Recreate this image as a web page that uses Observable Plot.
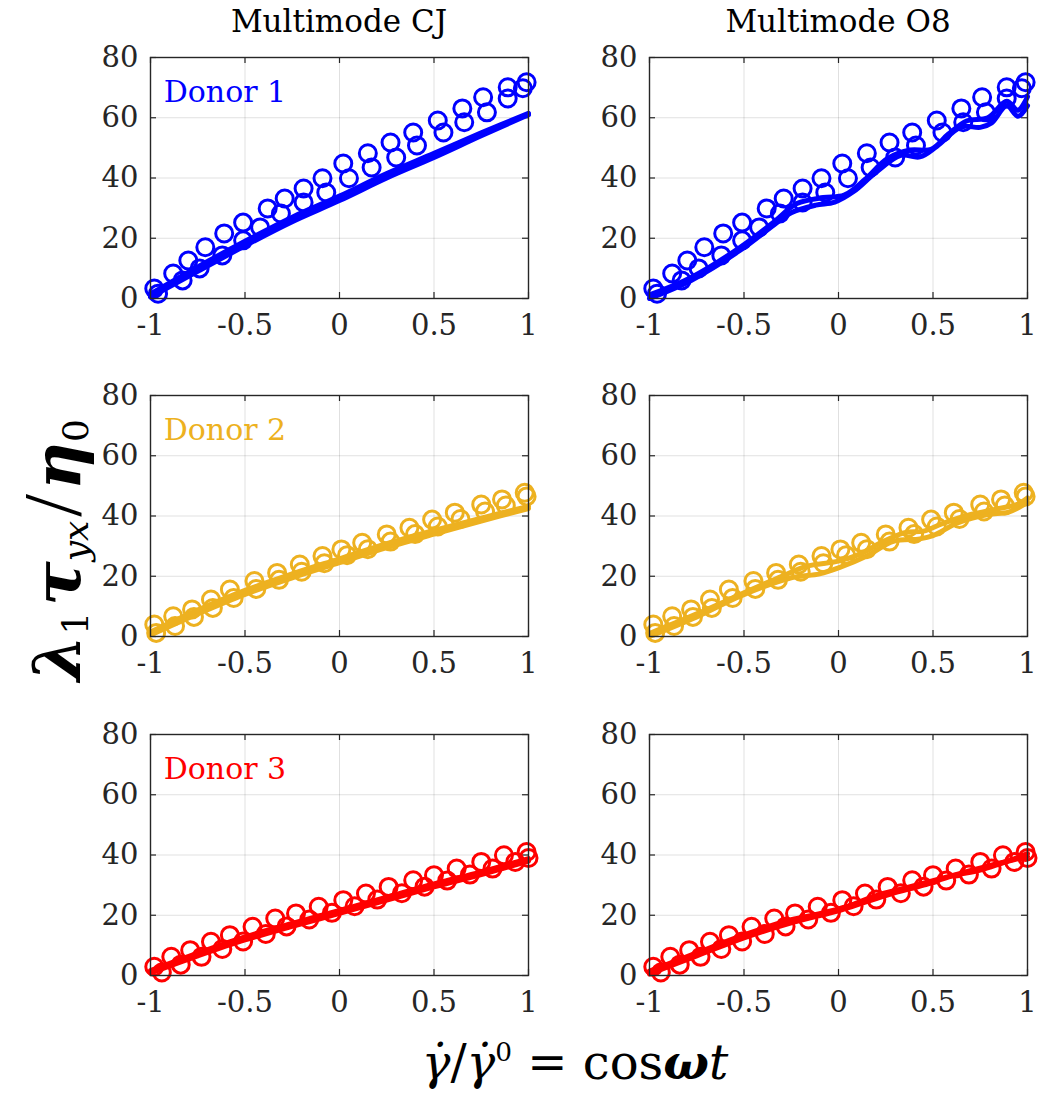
<!DOCTYPE html>
<html><head><meta charset="utf-8">
<script src="https://cdn.jsdelivr.net/npm/d3@7"></script>
<script src="https://cdn.jsdelivr.net/npm/@observablehq/plot@0.6"></script>
<style>
body{margin:0;background:#fff;}
#wrap{position:relative;width:1038px;height:1099px;font-family:"DejaVu Serif",serif;color:#000;overflow:hidden;}
.panel{position:absolute;}
.coltitle{position:absolute;font-size:31px;white-space:nowrap;transform:translateX(-50%);}
#ylabsvg{position:absolute;left:0;top:370px;}
#xlab{position:absolute;left:575px;top:1062px;transform:translate(-50%,-50%);font-size:48px;white-space:nowrap;}
sup{font-size:0.55em;vertical-align:0.7em;}
</style></head><body><div id="wrap"></div>
<script>
// ---- tick labels ----
const xTicks = [-1, -0.5, 0, 0.5, 1];
const yTicks = [0, 20, 40, 60, 80];
const models = ["Multimode CJ", "Multimode O8"];
const donors = ["Donor 1", "Donor 2", "Donor 3"];
const donorColors = ["#0000ff", "#edb120", "#ff0000"];

// ---- experimental data (open circles), upper & lower branches ----
const d1UpX = [-0.98,-0.88,-0.80,-0.71,-0.61,-0.51,-0.38,-0.29,-0.19,-0.09,0.02,0.15,0.27,0.39,0.52,0.65,0.76,0.89,0.99];
const d1UpY = [3.3,8.3,12.6,17,21.6,25.2,29.9,33.2,36.5,39.9,44.8,48.2,51.8,55.1,59.1,63.1,66.8,70.1,71.8];
const d1LoX = [-0.96,-0.83,-0.74,-0.62,-0.51,-0.42,-0.31,-0.19,-0.07,0.05,0.17,0.30,0.41,0.55,0.66,0.78,0.89,0.97];
const d1LoY = [1.6,6,10,14.3,19.3,23.6,28.2,31.9,35.2,39.9,43.5,46.8,50.8,55.1,58.5,61.8,66.4,69.8];

const d2UpX = [-0.98,-0.88,-0.78,-0.68,-0.58,-0.45,-0.33,-0.21,-0.09,0.01,0.12,0.25,0.37,0.49,0.61,0.75,0.86,0.98];
const d2UpY = [4,6.7,9,12.3,15.6,18.4,21.1,23.9,26.7,28.9,31.1,33.9,36.1,38.8,41.1,43.8,45.5,47.7];
const d2LoX = [-0.97,-0.87,-0.77,-0.67,-0.56,-0.44,-0.32,-0.2,-0.08,0.04,0.15,0.27,0.4,0.52,0.64,0.77,0.88,0.99];
const d2LoY = [1.2,3.5,6.5,9.5,12.8,15.8,18.8,21.5,24.3,27,29,31.5,34,36.5,39,41.5,43.5,46.5];

const d3UpX = [-0.98,-0.89,-0.79,-0.68,-0.58,-0.46,-0.34,-0.23,-0.11,0.02,0.14,0.26,0.39,0.50,0.62,0.75,0.87,0.99];
const d3UpY = [2.9,6.2,8.4,11.2,13.4,16.2,18.9,20.6,22.8,25,27.2,29.4,31.6,33.3,35.5,37.7,39.9,41];
const d3LoX = [-0.94,-0.84,-0.73,-0.62,-0.51,-0.39,-0.28,-0.16,-0.04,0.08,0.2,0.33,0.45,0.57,0.69,0.81,0.93,1.0];
const d3LoY = [1,3.6,6.2,8.8,11.3,13.8,16.3,18.6,20.8,23,25.2,27.3,29.5,31.5,33.5,35.5,37.7,39];

// ---- model predictions (thick lines), lower & upper branches ----
const cjX = [-1,-0.75,-0.5,-0.25,0,0.25,0.5,0.75,1];
const cj1Lo = [0.5,9,17.5,25.5,32.5,40,46.8,54,61];
const cj1Up = [1.5,10.5,19,27,34,41.5,48.2,55,61.5];
const cj2Lo = [0.5,7.5,14,19.5,24.5,29.5,34,38.3,42.5];
const cj2Up = [1.5,8.8,15.3,20.8,25.8,30.8,35.2,39.3,43.2];
const cj3Lo = [0.8,6.5,11.8,16.3,20.6,25,29.4,33.5,38];
const cj3Up = [1.6,7.4,12.8,17.3,21.6,26,30.4,34.4,38.8];

const o81LoX = [-1,-0.78,-0.52,-0.34,-0.25,-0.12,-0.02,0.08,0.2,0.33,0.43,0.52,0.65,0.75,0.81,0.89,0.95,1];
const o81LoY = [0,6,16,24.5,28.5,31,32,35.5,42,47.5,47,50.5,57,56.8,58.3,64,60.5,64];
const o81UpX = [-1,-0.78,-0.52,-0.34,-0.22,-0.08,0.03,0.14,0.26,0.38,0.49,0.58,0.68,0.79,0.89,0.95,1];
const o81UpY = [1.2,7,17,25.5,31.5,33.5,34.3,39.5,46.5,49.3,49.5,54.5,59,60,65.5,62.5,67];

const o82LoX = [-1,-0.75,-0.52,-0.25,-0.1,0.01,0.15,0.29,0.43,0.5,0.63,0.79,0.9,1];
const o82LoY = [0,6.5,13.4,19.5,20.8,23,26.7,31.6,32.4,33.5,37.7,40.5,41.3,44.5];
const o82UpX = [-1,-0.75,-0.5,-0.3,-0.17,0,0.12,0.22,0.35,0.45,0.55,0.7,0.85,0.95,1];
const o82UpY = [1,7.5,14.5,20,23.3,25,27.5,31,34.5,35,37.5,40.5,42.5,44,46];

const o83LoX = [-1,-0.75,-0.5,-0.25,0,0.15,0.3,0.45,0.6,0.75,0.9,1];
const o83LoY = [0.5,6.5,12.5,17.5,21.5,24.5,27.5,30,33,35,38,39.5];
const o83UpX = [-1,-0.75,-0.5,-0.25,-0.1,0.05,0.2,0.35,0.5,0.65,0.8,0.92,1];
const o83UpY = [1.5,7.5,13.5,18.5,20.5,23,26.5,29,31.5,34,36.5,38.5,40.5];

// ---- build tables ----
const zip = (xs, ys, branch) => xs.map((x, i) => ({x, y: ys[i], branch}));
const expData = [
  [...zip(d1UpX, d1UpY, "up"), ...zip(d1LoX, d1LoY, "lo")],
  [...zip(d2UpX, d2UpY, "up"), ...zip(d2LoX, d2LoY, "lo")],
  [...zip(d3UpX, d3UpY, "up"), ...zip(d3LoX, d3LoY, "lo")]
];
const modelData = [
  [ // CJ
    [...zip(cjX, cj1Lo, "lo"), ...zip(cjX, cj1Up, "up")],
    [...zip(cjX, cj2Lo, "lo"), ...zip(cjX, cj2Up, "up")],
    [...zip(cjX, cj3Lo, "lo"), ...zip(cjX, cj3Up, "up")]
  ],
  [ // O8
    [...zip(o81LoX, o81LoY, "lo"), ...zip(o81UpX, o81UpY, "up")],
    [...zip(o82LoX, o82LoY, "lo"), ...zip(o82UpX, o82UpY, "up")],
    [...zip(o83LoX, o83LoY, "lo"), ...zip(o83UpX, o83UpY, "up")]
  ]
];

// ---- layout ----
const wrap = document.getElementById("wrap");
const PW = 378, PH = 241, ML = 70, MR = 20, MT = 15, MB = 50;
const colLeft = [150, 649];
const rowTop = [57, 395, 734];
const axisColor = "#262626";
const fontFamily = '"DejaVu Serif", serif';

for (let r = 0; r < 3; r++) {
  for (let c = 0; c < 2; c++) {
    const color = donorColors[r];
    const marks = [
      Plot.gridX(xTicks, {stroke: "#000", strokeOpacity: 0.12, strokeWidth: 1}),
      Plot.gridY(yTicks, {stroke: "#000", strokeOpacity: 0.12, strokeWidth: 1}),
      Plot.axisX(xTicks, {tickSize: 0, tickPadding: 16, fontSize: 29, fill: axisColor, tickFormat: d => String(d), label: null}),
      Plot.axisY(yTicks, {tickSize: 0, tickPadding: 12, fontSize: 29, fill: axisColor, label: null}),
      Plot.tickX(xTicks, {x: d => d, insetTop: PH - 6, stroke: axisColor, strokeWidth: 1.2}),
      Plot.tickX(xTicks, {x: d => d, insetBottom: PH - 6, stroke: axisColor, strokeWidth: 1.2}),
      Plot.tickY(yTicks, {y: d => d, insetRight: PW - 6, stroke: axisColor, strokeWidth: 1.2}),
      Plot.tickY(yTicks, {y: d => d, insetLeft: PW - 6, stroke: axisColor, strokeWidth: 1.2}),
      Plot.dot(expData[r], {x: "x", y: "y", r: 8.5, stroke: color, strokeWidth: 3, fill: "none"}),
      Plot.line(modelData[c][r], {x: "x", y: "y", z: "branch", stroke: color, strokeWidth: 5, curve: "catmull-rom"}),
      Plot.frame({stroke: axisColor, strokeWidth: 1.4})
    ];
    if (c === 0) {
      marks.push(Plot.text([donors[r]], {x: () => -0.93, y: () => 68.5, text: d => d, textAnchor: "start", lineAnchor: "middle", fill: color, fontSize: 30, fontFamily}));
    }
    const svg = Plot.plot({
      width: PW + ML + MR, height: PH + MT + MB,
      marginLeft: ML, marginRight: MR, marginTop: MT, marginBottom: MB,
      x: {domain: [-1, 1]},
      y: {domain: [0, 80]},
      style: {fontFamily, background: "transparent", overflow: "visible"},
      marks
    });
    svg.classList.add("panel");
    svg.style.left = (colLeft[c] - ML) + "px";
    svg.style.top = (rowTop[r] - MT) + "px";
    wrap.appendChild(svg);
  }
}

// column titles
models.forEach((m, c) => {
  const t = document.createElement("div");
  t.className = "coltitle";
  t.textContent = m;
  t.style.left = (colLeft[c] + PW / 2) + "px";
  t.style.top = "3px";
  wrap.appendChild(t);
});

// y axis label (rotated SVG text)
const ns = "http://www.w3.org/2000/svg";
const ysvg = document.createElementNS(ns, "svg");
ysvg.setAttribute("id", "ylabsvg");
ysvg.setAttribute("width", "110");
ysvg.setAttribute("height", "360");
ysvg.innerHTML =
  '<text transform="translate(80,180) rotate(-90)" text-anchor="middle" font-family="DejaVu Serif, serif" font-size="66" fill="#000">' +
  '<tspan font-weight="bold" font-style="italic">λ</tspan>' +
  '<tspan font-size="36" dy="8">1</tspan>' +
  '<tspan dy="-8" dx="6" font-weight="bold" font-style="italic">τ</tspan>' +
  '<tspan font-size="36" dy="8" font-style="italic">yx</tspan>' +
  '<tspan dy="-8" dx="4" font-family="Liberation Serif, serif" font-size="82">/</tspan>' +
  '<tspan dx="4" font-weight="bold" font-style="italic">η</tspan>' +
  '<tspan font-size="36" dy="8">0</tspan>' +
  '</text>';
wrap.appendChild(ysvg);

// x axis label
const xl = document.createElement("div");
xl.id = "xlab";
xl.innerHTML = '<i>γ̇</i>/<i>γ̇</i><sup>0</sup> = cos<b><i>ω</i></b><i>t</i>';
wrap.appendChild(xl);
</script></body></html>
